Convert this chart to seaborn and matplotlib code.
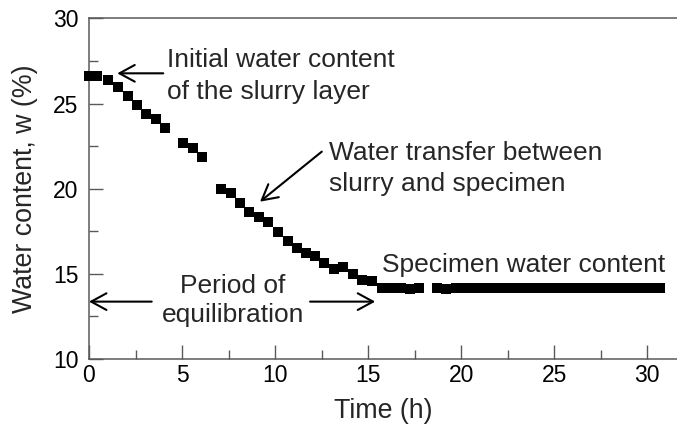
import matplotlib
matplotlib.use("Agg")
import matplotlib.pyplot as plt
import seaborn as sns
import pandas as pd
from matplotlib.ticker import MultipleLocator

# ---- data ----
time_h = [0.00, 0.41, 1.04, 1.58, 2.08, 2.56, 3.06, 3.59, 4.09,
          5.07, 5.58, 6.09,
          7.10, 7.62, 8.12, 8.62, 9.14, 9.64, 10.18, 10.68, 11.16, 11.67,
          12.15, 12.65, 13.17, 13.67, 14.18, 14.66, 15.20,
          15.74, 16.27, 16.75, 17.25, 17.71,
          18.70, 19.20, 19.70, 20.20, 20.70, 21.20, 21.70, 22.20, 22.70,
          23.20, 23.70, 24.20, 24.70, 25.20, 25.70, 26.20, 26.70, 27.20,
          27.70, 28.20, 28.70, 29.20, 29.70, 30.20, 30.70]
water_pct = [26.62, 26.62, 26.38, 25.99, 25.44, 24.92, 24.39, 24.08, 23.58,
             22.67, 22.37, 21.88,
             19.98, 19.73, 19.14, 18.61, 18.34, 18.03, 17.44, 16.93, 16.50, 16.21,
             16.05, 15.65, 15.27, 15.38, 14.97, 14.64, 14.58,
             14.19, 14.15, 14.15, 14.14, 14.16,
             14.15, 14.14, 14.16, 14.15, 14.17, 14.15, 14.16, 14.18, 14.17,
             14.19, 14.18, 14.17, 14.19, 14.18, 14.17, 14.16, 14.17, 14.16,
             14.15, 14.16, 14.15, 14.16, 14.15, 14.16, 14.15]
x_ticks = [0, 5, 10, 15, 20, 25, 30]
y_ticks = [10, 15, 20, 25, 30]

df = pd.DataFrame({"Time (h)": time_h, "w": water_pct})

sns.set_style("ticks")
plt.rcParams["font.family"] = ["Liberation Sans", "DejaVu Sans"]

fig = plt.figure(figsize=(6.77, 4.36), dpi=100)
ax = fig.add_axes([0.13146, 0.17661, 0.86854, 0.78096])

sns.scatterplot(data=df, x="Time (h)", y="w", marker="s", color="black",
                s=54, linewidth=0, ax=ax, clip_on=False, zorder=3)

ax.set_xlim(0, 31.6)
ax.set_ylim(10, 30)
ax.set_xticks(x_ticks)
ax.set_yticks(y_ticks)
ax.xaxis.set_minor_locator(MultipleLocator(2.5))
ax.yaxis.set_minor_locator(MultipleLocator(2.5))

spine_col = "#5a5a5a"
for side in ["left", "bottom", "top"]:
    ax.spines[side].set_color(spine_col)
    ax.spines[side].set_linewidth(1.1)
ax.spines["right"].set_visible(False)

ax.tick_params(axis="both", which="major", direction="in", length=10, width=1.0,
               color=spine_col, labelsize=16.5, labelcolor="black")
ax.tick_params(axis="both", which="minor", direction="in", length=6.5, width=1.0,
               color=spine_col)
ax.tick_params(axis="y", which="both", right=False, pad=7.5)
ax.tick_params(axis="x", which="both", top=False, pad=3.5)

ax.set_xlabel("Time (h)", fontsize=19.3)
ax.set_ylabel("Water content, w (%)", fontsize=19.3)
ax.xaxis.set_label_coords(0.5, -0.115)
ax.yaxis.set_label_coords(-0.087, 0.5)

fs = 19
arrow = dict(arrowstyle="->,head_length=0.55,head_width=0.3", lw=1.5,
             color="black", mutation_scale=20, shrinkA=0, shrinkB=0)

ax.text(4.21, 27.17, "Initial water content", fontsize=fs, ha="left", va="baseline")
ax.text(4.21, 25.27, "of the slurry layer", fontsize=fs, ha="left", va="baseline")
ax.annotate("", xy=(1.52, 26.78), xytext=(3.99, 26.78), arrowprops=arrow)

ax.text(12.92, 21.69, "Water transfer between", fontsize=fs, ha="left", va="baseline")
ax.text(12.92, 19.86, "slurry and specimen", fontsize=fs, ha="left", va="baseline")
ax.annotate("", xy=(9.19, 19.24), xytext=(12.51, 22.18), arrowprops=arrow)

ax.text(15.77, 15.13, "Specimen water content", fontsize=fs, ha="left", va="baseline")

ax.text(7.72, 13.86, "Period of", fontsize=fs, ha="center", va="baseline")
ax.text(7.72, 12.18, "equilibration", fontsize=fs, ha="center", va="baseline")
ax.annotate("", xy=(0.0, 13.37), xytext=(3.37, 13.37), arrowprops=arrow,
            annotation_clip=False)
ax.annotate("", xy=(15.38, 13.37), xytext=(11.88, 13.37), arrowprops=arrow)

fig.savefig("out.png", dpi=100)
